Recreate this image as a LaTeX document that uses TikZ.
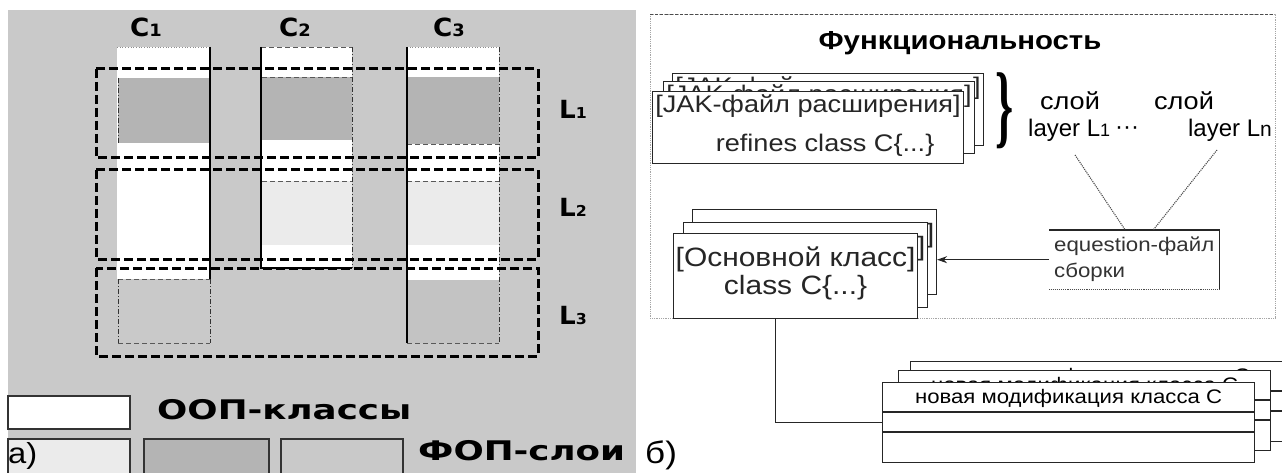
\documentclass[tikz,border=0pt]{standalone}
\usepackage{fontspec}
\setmainfont{Liberation Sans}
\newfontfamily\wide{Liberation Sans}[FakeStretch=1.13]
\newfontfamily\heavy{DejaVu Sans}[FakeStretch=1.05]
\newfontfamily\heavywide{DejaVu Sans}[FakeStretch=1.32]
\newfontfamily\bracefont{Liberation Serif}
\usetikzlibrary{arrows.meta,calc}
\definecolor{panelgray}{HTML}{C9C9C9}
\definecolor{layerdark}{HTML}{B4B4B4}
\definecolor{layerlight}{HTML}{EBEBEB}
\definecolor{layermid}{HTML}{C3C3C3}
% letter with a small index set on the baseline
\newcommand\colidx[3]{#1{\fontsize{#3}{#3}\selectfont #2}}
% invisible depth that lifts a centred text block
\newcommand\lift[1]{\rule[-#1]{0pt}{#1}}
\begin{document}
\begin{tikzpicture}[x=1pt,y=-1pt,
  layerbox/.style={line width=3pt, black, dash pattern=on 9pt off 4pt},
  edgedashdot/.style={line width=0.8pt, black!80, dash pattern=on 5pt off 2pt on 1pt off 2pt},
  edgedashed/.style={line width=0.8pt, black!65, dash pattern=on 5pt off 3pt},
  edgedotted/.style={line width=0.7pt, black!45, dotted},
  edgesolid/.style={line width=1.2pt, black},
  legendbox/.style={line width=1.2pt, draw=black!80},
  heavylabel/.style={font=\heavy\bfseries\fontsize{25}{25}\selectfont, inner sep=0pt},
  legendlabel/.style={font=\heavywide\bfseries\fontsize{27}{27}\selectfont, inner sep=0pt},
  boxline/.style={line width=1.1pt, black!85},
  jakbox/.style={boxline, draw, fill=white, inner sep=0pt, anchor=north west,
    minimum width=311pt, minimum height=72pt, align=center,
    font=\wide\fontsize{24}{39}\selectfont},
  osnbox/.style={boxline, draw, fill=white, inner sep=0pt, anchor=north west,
    minimum width=244pt, minimum height=85pt, align=center,
    font=\wide\fontsize{26.5}{28}\selectfont},
  modbox/.style={boxline, draw, fill=white, inner sep=0pt, anchor=north west,
    minimum width=372pt, minimum height=80pt},
  modtext/.style={inner sep=0pt, font=\wide\fontsize{19.6}{20}\selectfont},
  slointext/.style={inner sep=0pt, font=\wide\fontsize{24}{24}\selectfont},
  layertext/.style={inner sep=0pt, font=\fontsize{24}{24}\selectfont},
  dotlink/.style={line width=1.1pt, black!70, densely dotted}
]
\useasboundingbox (0,0) rectangle (1282,473);
\fill[white] (0,0) rectangle (1282,473);

% ---------- panel a: classes and feature layers ----------
\fill[panelgray] (8,10) rectangle (636,480);

% column C1
\fill[white] (117,47) rectangle (210,279);
\fill[layerdark] (118,78) rectangle (210,143);
\draw[edgedotted] (117,47) -- (210,47);
\draw[edgedashdot] (118,78) -- (118,143);
\draw[edgesolid] (210,47) -- (210,279);
\draw[edgedashed] (118,279) -- (210,279);
\draw[edgedashdot] (118,279) -- (118,343);
\draw[edgedashdot] (210,279) -- (210,343);
\draw[edgedashed] (118,343) -- (210,343);

% column C2
\fill[white] (261,47) rectangle (352,268);
\fill[layerdark] (261,77) rectangle (352,140);
\fill[layerlight] (262,181) rectangle (352,245);
\draw[edgedashed] (261,47) -- (352,47);
\draw[edgedashed] (262,77) -- (352,77);
\draw[edgedashed] (262,181) -- (352,181);
\draw[edgedashdot] (352,47) -- (352,268);
\draw[edgesolid] (261,47) -- (261,268) -- (352,268);

% column C3
\fill[white] (407,47) rectangle (499,280);
\fill[layerdark] (407,77) rectangle (499,144);
\fill[layerlight] (407,181) rectangle (499,245);
\fill[layermid] (407,280) rectangle (499,343);
\draw[edgedotted] (407,47) -- (499,47);
\draw[edgedashed] (407,144) -- (499,144);
\draw[edgedashed] (407,181) -- (499,181);
\draw[edgedashed] (407,343) -- (499,343);
\draw[edgedashdot] (499,47) -- (499,343);
\draw[edgesolid] (407,47) -- (407,343);

% layers
\draw[layerbox] (96,69) rectangle (538,158);
\draw[layerbox] (96,170) rectangle (538,259);
\draw[layerbox] (96,268) rectangle (538,356);

% column and layer labels
\node[heavylabel, anchor=base west] (c1) at (130,37) {\colidx{C}{1}{17}};
\node[heavylabel, anchor=base west] (c2) at (279,37) {\colidx{C}{2}{17}};
\node[heavylabel, anchor=base west] (c3) at (433,37) {\colidx{C}{3}{17}};
\node[heavylabel, anchor=base west] (l1) at (559,119) {\colidx{L}{1}{15}};
\node[heavylabel, anchor=base west] (l2) at (559,216) {\colidx{L}{2}{15}};
\node[heavylabel, anchor=base west] (l3) at (559,324) {\colidx{L}{3}{15}};

% legend
\draw[legendbox, fill=white] (8,396) rectangle (130,429);
\node[legendlabel, anchor=base west] (oop) at (157,419) {ООП-классы};
\draw[legendbox, fill=layerlight] (8,439) rectangle (130,480);
\draw[legendbox, fill=layerdark] (144,439) rectangle (269,480);
\draw[legendbox, fill=panelgray] (281,439) rectangle (403,480);
\node[legendlabel, anchor=base west] (fop) at (418,460) {ФОП-слои};
\node[inner sep=0pt, anchor=base west, font=\wide\fontsize{29}{29}\selectfont] (parta) at (8,463) {а)};

% ---------- panel b: feature-oriented build ----------
\draw[line width=0.8pt, black!35, densely dotted] (650,14) rectangle (1275,318);
\draw[line width=0.9pt, black!70, densely dashed] (650,14) -- (1275,14);
\node[inner sep=0pt, anchor=base, font=\wide\bfseries\fontsize{26}{26}\selectfont] (title) at (960,50) {Функциональность};

% stack of extension files
\node[jakbox] (jak3) at (672,73) {[JAK-файл расширения]\\\hspace*{34pt}refines class C\{...\}\lift{8pt}};
\node[jakbox] (jak2) at (663,81) {[JAK-файл расширения]\\\hspace*{34pt}refines class C\{...\}\lift{8pt}};
\node[jakbox] (jak1) at (652,91) {[JAK-файл расширения]\\\hspace*{34pt}refines class C\{...\}\lift{8pt}};

% brace and layer names
\node[inner sep=0pt, font=\bracefont\bfseries\fontsize{92}{92}\selectfont] (brace) at (1005,111) {\scalebox{0.5}[1]{\}}};
\node[slointext, anchor=base] (sloi1) at (1070,110) {слой};
\node[slointext, anchor=base] (sloi2) at (1184,110) {слой};
\node[layertext, anchor=base west] (layer1) at (1028,137) {\colidx{layer L}{1}{18}};
\node[layertext, anchor=base] (dots) at (1127,135) {···};
\node[layertext, anchor=base east] (layern) at (1272,137) {\colidx{layer L}{n}{21}};

% equation file
\node[inner sep=0pt, anchor=north west, minimum width=170pt, minimum height=59pt,
      align=left, text=black!80, font=\wide\fontsize{19.7}{26}\selectfont] (eq) at (1049,230)
      {equestion-файл\\сборки};
\draw[boxline] (eq.north west) -- (eq.north east) -- (eq.south east);
\draw[line width=0.9pt, black!70, densely dotted] (eq.south east) -- (eq.south west);
\draw[dotlink] ($(layer1.base west)+(47,18)$) -- ($(eq.north)+(-9,0)$);
\draw[dotlink] ($(layern.base east)+(-55,13)$) -- ($(eq.north)+(19,0)$);

% stack of base classes
\node[osnbox] (osn3) at (692,209) {[Основной класс]\\class C\{...\}\lift{10pt}};
\node[osnbox] (osn2) at (683,222) {[Основной класс]\\class C\{...\}\lift{10pt}};
\node[osnbox] (osn1) at (673,233) {[Основной класс]\\class C\{...\}\lift{10pt}};
\draw[line width=1pt, black!85, -{Stealth[length=10pt,width=7pt]}] (eq.west) -- (eq.west -| osn3.east);

% stack of new class modifications
\foreach \n/\px/\py in {3/910/361, 2/898/370, 1/882/382} {
  \node[modbox] (mod\n) at (\px,\py) {};
  \draw[boxline] ($(mod\n.north west)+(0,30)$) -- ($(mod\n.north east)+(0,30)$);
  \draw[boxline] ($(mod\n.north west)+(0,50)$) -- ($(mod\n.north east)+(0,50)$);
  \node[modtext] (modt\n) at ($(mod\n.north)+(0,16)$) {новая модификация класса С};
}
\draw[boxline] ($(osn1.south)+(-20,0)$) |- (mod1.west);

\node[inner sep=0pt, anchor=base west, font=\wide\fontsize{31}{31}\selectfont] (partb) at (645,463) {б)};
\end{tikzpicture}
\end{document}
